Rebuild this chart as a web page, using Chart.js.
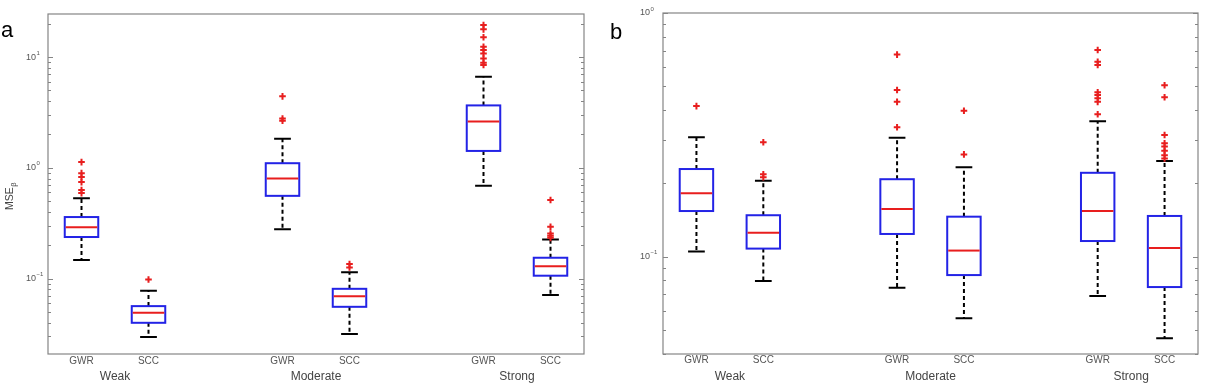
<!DOCTYPE html>
<html><head><meta charset="utf-8">
<script src="https://cdn.jsdelivr.net/npm/chart.js@4.4.0/dist/chart.umd.min.js"></script>
<style>
html,body{margin:0;padding:0;background:#fff;}
#wrap{position:relative;width:1207px;height:392px;overflow:hidden;}
.panel{position:absolute;top:0;height:392px;}
#pa{left:0;width:600px;}
#pb{left:600px;width:607px;}
</style></head><body>
<div id="wrap"><div class="panel" id="pa"><canvas id="ca"></canvas></div><div class="panel" id="pb"><canvas id="cb"></canvas></div></div>
<script>
// ---- categories / tick labels ----
const groups = ['Weak', 'Moderate', 'Strong'];
const methods = ['GWR', 'SCC'];
const xTickLabels = ['GWR', 'SCC', 'GWR', 'SCC', 'GWR', 'SCC'];
const yTitle = 'MSE';
const yTitleSub = 'β';
const aYTickExponents = [-1, 0, 1];
const bYTickExponents = [-1, 0];

// ---- panel a values (GWR-Weak, SCC-Weak, GWR-Mod, SCC-Mod, GWR-Strong, SCC-Strong) ----
const aLowerWhisker = [0.147, 0.0296, 0.279, 0.0315, 0.688, 0.0708];
const aQ1           = [0.237, 0.0398, 0.558, 0.0555, 1.42, 0.106];
const aMedian       = [0.291, 0.049, 0.802, 0.0693, 2.62, 0.129];
const aQ3           = [0.359, 0.0563, 1.10, 0.0807, 3.66, 0.154];
const aUpperWhisker = [0.532, 0.0774, 1.83, 0.114, 6.64, 0.225];
const aOutliers = [
  [1.126, 0.895, 0.824, 0.743, 0.629, 0.591],
  [0.098],
  [4.42, 2.79, 2.66],
  [0.135, 0.126],
  [19.5, 17.8, 15.1, 12.4, 11.6, 10.8, 9.72, 8.89, 8.47],
  [0.511, 0.293, 0.255, 0.243, 0.233]
];

// ---- panel b values ----
const bLowerWhisker = [0.105, 0.0795, 0.0746, 0.0559, 0.069, 0.0463];
const bQ1           = [0.154, 0.108, 0.124, 0.0841, 0.116, 0.0751];
const bMedian       = [0.182, 0.1255, 0.157, 0.106, 0.154, 0.1086];
const bQ3           = [0.229, 0.148, 0.208, 0.146, 0.221, 0.147];
const bUpperWhisker = [0.309, 0.205, 0.308, 0.233, 0.360, 0.247];
const bOutliers = [
  [0.415],
  [0.295, 0.218, 0.212],
  [0.675, 0.483, 0.432, 0.340],
  [0.397, 0.263],
  [0.705, 0.631, 0.612, 0.473, 0.461, 0.447, 0.432, 0.384],
  [0.505, 0.451, 0.316, 0.292, 0.283, 0.272, 0.261, 0.253]
];

const FONT = '"Liberation Sans", Arial, Helvetica, sans-serif';
const BLUE = 'rgb(35,35,230)';
const RED = 'rgb(232,30,30)';

function positions() {
  const p = [];
  groups.forEach((g, gi) => methods.forEach((m, mi) => p.push(gi * (methods.length + 1) + mi + 1)));
  return p;
}

const boxPlugin = {
  id: 'boxplot',
  beforeDatasetsDraw(chart, args, o) {
    const { ctx, scales: { x, y } } = chart;
    const st = o.stats, pos = o.pos;
    ctx.save();
    for (let i = 0; i < pos.length; i++) {
      const px = x.getPixelForValue(pos[i]);
      const hw = x.getPixelForValue(pos[i] + 0.25) - px;
      const yLo = y.getPixelForValue(st.lo[i]), yQ1 = y.getPixelForValue(st.q1[i]);
      const yMd = y.getPixelForValue(st.med[i]), yQ3 = y.getPixelForValue(st.q3[i]);
      const yHi = y.getPixelForValue(st.hi[i]);
      ctx.strokeStyle = '#000'; ctx.lineWidth = 2; ctx.setLineDash([4, 3]);
      ctx.beginPath(); ctx.moveTo(px, yQ3); ctx.lineTo(px, yHi); ctx.moveTo(px, yQ1); ctx.lineTo(px, yLo); ctx.stroke();
      ctx.setLineDash([]);
      ctx.beginPath(); ctx.moveTo(px - hw / 2, yHi); ctx.lineTo(px + hw / 2, yHi);
      ctx.moveTo(px - hw / 2, yLo); ctx.lineTo(px + hw / 2, yLo); ctx.stroke();
      ctx.fillStyle = '#fff';
      ctx.fillRect(px - hw, yQ3, 2 * hw, yQ1 - yQ3);
      ctx.strokeStyle = BLUE; ctx.lineWidth = 2;
      ctx.strokeRect(px - hw, yQ3, 2 * hw, yQ1 - yQ3);
      ctx.strokeStyle = RED;
      ctx.beginPath(); ctx.moveTo(px - hw + 1, yMd); ctx.lineTo(px + hw - 1, yMd); ctx.stroke();
    }
    ctx.restore();
  }
};

const framePlugin = {
  id: 'frame',
  afterDraw(chart, args, o) {
    const { ctx, chartArea: a, scales: { x, y } } = chart;
    ctx.save();
    ctx.strokeStyle = '#858585'; ctx.lineWidth = 1.2;
    ctx.strokeRect(a.left, a.top, a.right - a.left, a.bottom - a.top);
    ctx.lineWidth = 1;
    y.ticks.forEach(t => {
      const py = Math.round(y.getPixelForValue(t.value)) + 0.5;
      const len = t.major ? 5 : 3;
      ctx.beginPath();
      ctx.moveTo(a.left, py); ctx.lineTo(a.left + len, py);
      ctx.moveTo(a.right, py); ctx.lineTo(a.right - len, py);
      ctx.stroke();
    });
    // y tick labels 10^e
    ctx.fillStyle = '#555';
    ctx.textBaseline = 'middle'; ctx.textAlign = 'left';
    o.exps.forEach(e => {
      const v = Math.pow(10, e);
      if (v < y.min * 0.999 || v > y.max * 1.001) return;
      const py = y.getPixelForValue(v);
      const lx = a.left - o.labelGap;
      ctx.font = '9px ' + FONT;
      ctx.fillText('10', lx, py);
      const w = ctx.measureText('10').width;
      ctx.font = '6px ' + FONT;
      ctx.fillText(e < 0 ? '\u2212' + Math.abs(e) : String(e), lx + w + 0.5, py - 4);
    });
    // x tick labels
    ctx.fillStyle = '#555'; ctx.textAlign = 'center'; ctx.textBaseline = 'middle';
    ctx.font = '10px ' + FONT;
    o.pos.forEach((p, i) => ctx.fillText(xTickLabels[i], x.getPixelForValue(p), a.bottom + o.xDy));
    // group labels
    ctx.fillStyle = '#444';
    ctx.font = '12px ' + FONT;
    groups.forEach((g, gi) => {
      const gp = o.pos.slice(gi * methods.length, (gi + 1) * methods.length);
      const cx = x.getPixelForValue((gp[0] + gp[gp.length - 1]) / 2);
      ctx.fillText(g, cx, a.bottom + o.groupDy);
    });
    // panel letter
    ctx.fillStyle = '#000'; ctx.textAlign = 'left'; ctx.textBaseline = 'alphabetic';
    ctx.font = '22px ' + FONT;
    ctx.fillText(o.letter, o.letterX, o.letterY);
    // y title
    if (o.showTitle) {
      ctx.save();
      ctx.translate(o.titleX, o.titleY);
      ctx.rotate(-Math.PI / 2);
      ctx.fillStyle = '#444';
      ctx.font = '10.5px ' + FONT;
      ctx.textAlign = 'left';
      ctx.fillText(yTitle, 0, 0);
      const w = ctx.measureText(yTitle).width;
      ctx.font = '7.5px ' + FONT;
      ctx.fillText(yTitleSub, w + 0.5, 3);
      ctx.restore();
    }
    ctx.restore();
  }
};

function buildChart(canvasId, st, cfg) {
  const pos = positions();
  const outPts = [];
  st.out.forEach((arr, i) => arr.forEach(v => outPts.push({ x: pos[i], y: v })));
  return new Chart(document.getElementById(canvasId), {
    type: 'scatter',
    data: { datasets: [{ data: outPts, pointStyle: 'cross', pointRadius: 3.3, borderColor: RED, backgroundColor: RED, borderWidth: 2, pointHoverRadius: 3.3 }] },
    options: {
      responsive: true, maintainAspectRatio: false, animation: false,
      layout: { padding: { left: 0, top: cfg.top, right: cfg.right, bottom: 0 } },
      plugins: {
        legend: { display: false }, tooltip: { enabled: false },
        boxplot: { stats: st, pos: pos },
        frame: { pos: pos, exps: cfg.exps, labelGap: cfg.labelGap, xDy: cfg.xDy, groupDy: cfg.groupDy, letter: cfg.letter, letterX: cfg.letterX, letterY: cfg.letterY, showTitle: cfg.showTitle, titleX: 13, titleY: 210 }
      },
      scales: {
        x: {
          type: 'linear', min: 0.5, max: pos[pos.length - 1] + 0.5,
          grid: { display: false }, border: { display: false },
          afterBuildTicks: s => { s.ticks = pos.map(v => ({ value: v })); },
          afterFit: s => { s.height = 38; },
          ticks: { display: false }
        },
        y: {
          type: 'logarithmic', min: cfg.ymin, max: cfg.ymax,
          grid: { display: false }, border: { display: false },
          afterBuildTicks: s => {
            const t = [];
            const lo = Math.floor(Math.log10(s.min)), hi = Math.ceil(Math.log10(s.max));
            for (let e = lo; e <= hi; e++) for (let k = 1; k < 10; k++) {
              const v = k * Math.pow(10, e);
              if (v >= s.min * 0.999 && v <= s.max * 1.001) t.push({ value: v, major: k === 1 });
            }
            s.ticks = t;
          },
          afterFit: s => { s.width = cfg.yw; },
          ticks: { display: false }
        }
      }
    },
    plugins: [boxPlugin, framePlugin]
  });
}

buildChart('ca', { lo: aLowerWhisker, q1: aQ1, med: aMedian, q3: aQ3, hi: aUpperWhisker, out: aOutliers },
  { ymin: 0.0208, ymax: 24.5, top: 14, right: 16, yw: 48, exps: aYTickExponents, labelGap: 22, xDy: 7, groupDy: 23, letter: 'a', letterX: 1, letterY: 37, showTitle: true });
buildChart('cb', { lo: bLowerWhisker, q1: bQ1, med: bMedian, q3: bQ3, hi: bUpperWhisker, out: bOutliers },
  { ymin: 0.0399, ymax: 1.0, top: 13, right: 9, yw: 63, exps: bYTickExponents, labelGap: 23, xDy: 6, groupDy: 22.5, letter: 'b', letterX: 10, letterY: 39, showTitle: false });
</script>
</body></html>
